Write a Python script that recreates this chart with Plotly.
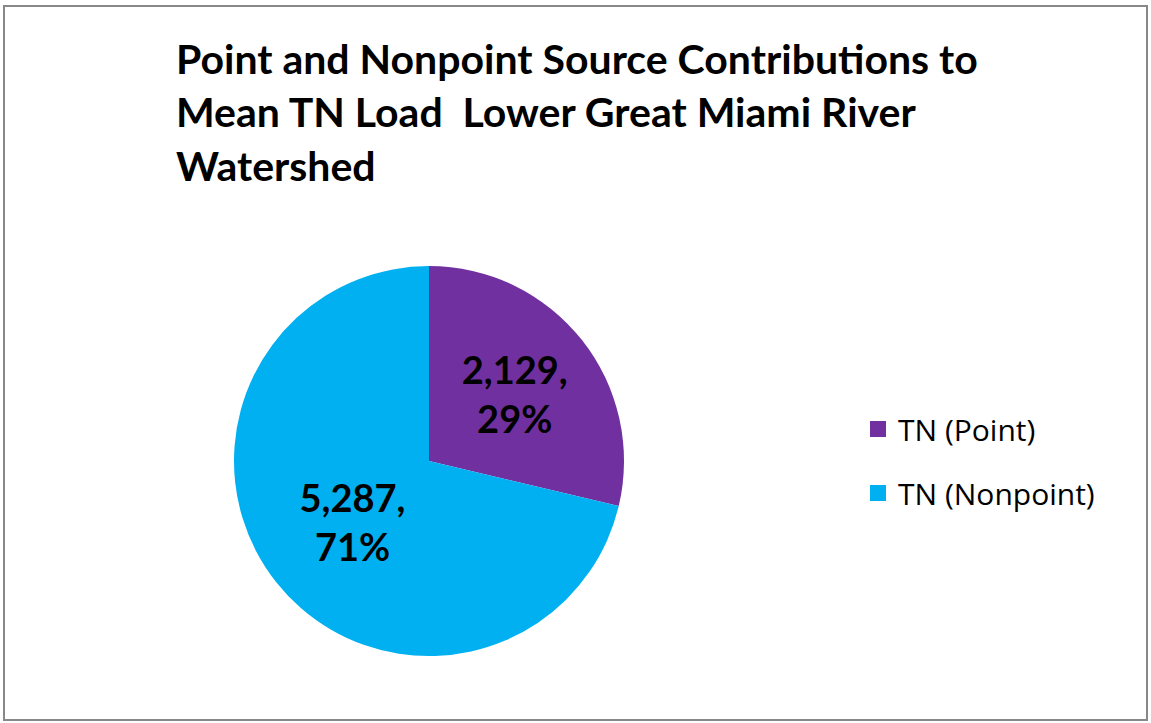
import plotly.graph_objects as go

labels = ["TN (Point)", "TN (Nonpoint)"]
values = [2129, 5287]
colors = ["#7030A0", "#00B0F0"]
title_lines = ["Point and Nonpoint Source Contributions to",
               "Mean TN Load  Lower Great Miami River",
               "Watershed"]

W, H = 1151, 723
cx, cy, r = 429, 461, 195

fig = go.Figure()
fig.add_trace(go.Pie(
    labels=labels, values=values, sort=False, direction="clockwise", rotation=0,
    marker=dict(colors=colors),
    texttemplate="%{value:,},<br>%{percent:.0%}",
    textposition="inside", insidetextorientation="horizontal",
    textfont=dict(family="Lato", size=38, color="black", weight="bold"),
    domain=dict(x=[(cx - r) / W, (cx + r) / W], y=[1 - (cy + r) / H, 1 - (cy - r) / H]),
    showlegend=False, hoverinfo="label+value+percent",
))

# legend entries (same labels/colours as the slices)
for lab, col in zip(labels, colors):
    fig.add_trace(go.Scatter(
        x=[None], y=[None], mode="markers", name=lab, legendgroup=lab,
        marker=dict(symbol="square", size=16, color=col), showlegend=True,
    ))

fig.update_layout(
    width=W, height=H, margin=dict(l=0, r=0, t=0, b=0),
    paper_bgcolor="white", plot_bgcolor="rgba(0,0,0,0)",
    xaxis=dict(visible=False), yaxis=dict(visible=False),
    legend=dict(x=858 / W, xanchor="left", y=1 - 461 / H, yanchor="middle",
                font=dict(family="Open Sans", size=30, color="black"),
                traceorder="grouped", tracegroupgap=22, itemwidth=30),
    annotations=[dict(text="<br>".join(title_lines), xref="paper", yref="paper",
                      x=174 / W, xanchor="left", y=1 - 32 / H, yanchor="top",
                      align="left", showarrow=False,
                      font=dict(family="Lato", size=41, color="black", weight="bold"))],
    shapes=[dict(type="rect", xref="paper", yref="paper", x0=4 / W, x1=1147 / W, y0=1 - 720 / H, y1=1 - 6 / H,
                 line=dict(color="#888888", width=2))],
)

fig.write_html("out.html")
